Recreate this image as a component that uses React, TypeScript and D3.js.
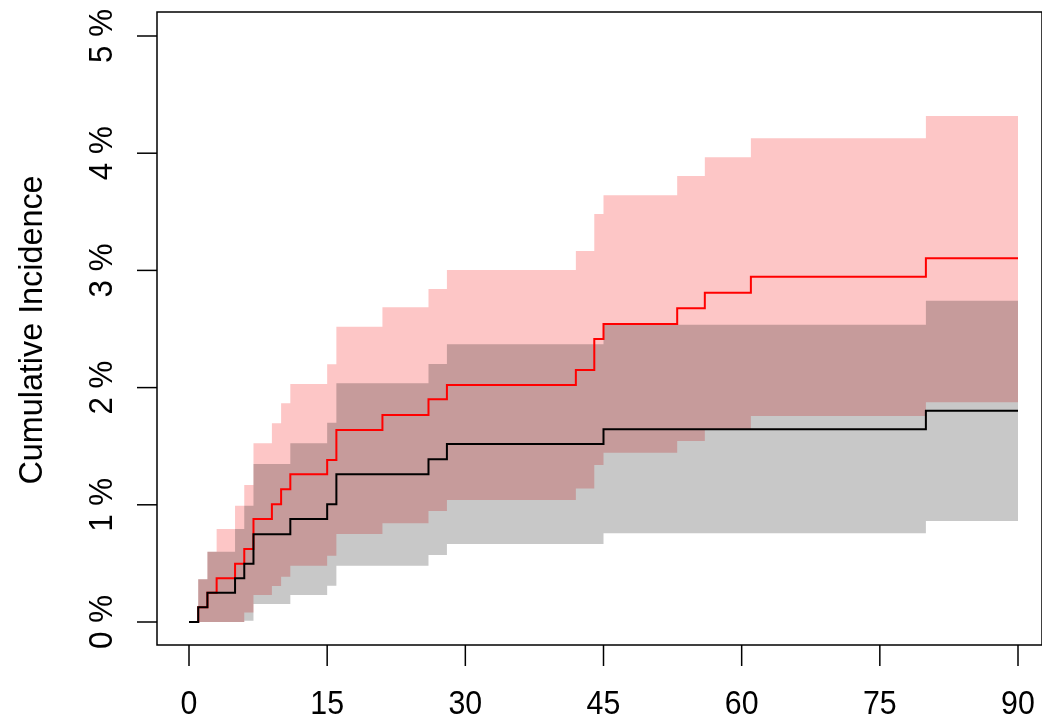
import React, {useEffect, useRef} from 'react';
import * as d3 from 'd3';

// group 1 (black) : event times, estimate and CI bounds (in %)
const blackTimes = [0, 1, 2, 5, 6, 7, 11, 15, 16, 26, 28, 45, 80];
const blackEst = [0, 0.125, 0.25, 0.373, 0.497, 0.748, 0.879, 1.004, 1.26, 1.388, 1.519, 1.644, 1.803];
const blackLower = [0, 0, 0, 0, 0.01, 0.153, 0.23, 0.31, 0.48, 0.571, 0.666, 0.757, 0.862];
const blackUpper = [0, 0.364, 0.6, 0.794, 0.992, 1.348, 1.525, 1.7, 2.037, 2.201, 2.369, 2.537, 2.742];

// group 2 (red)
const redTimes = [0, 1, 2, 3, 5, 6, 7, 9, 10, 11, 15, 16, 21, 26, 28, 42, 44, 45, 53, 56, 61, 80];
const redEst = [0, 0.125, 0.25, 0.373, 0.497, 0.623, 0.879, 1.004, 1.132, 1.26, 1.382, 1.638, 1.766, 1.9, 2.022, 2.15, 2.415, 2.543, 2.676, 2.81, 2.946, 3.103];
const redLower = [0, 0, 0, 0, 0, 0.08, 0.23, 0.307, 0.387, 0.48, 0.566, 0.751, 0.842, 0.947, 1.041, 1.14, 1.34, 1.445, 1.545, 1.644, 1.758, 1.875];
const redUpper = [0, 0.364, 0.6, 0.794, 0.992, 1.169, 1.525, 1.695, 1.866, 2.031, 2.199, 2.52, 2.685, 2.841, 3.003, 3.166, 3.481, 3.641, 3.805, 3.965, 4.127, 4.317];

const xTicks = [0, 15, 30, 45, 60, 75, 90];
const yTicks = [0, 1, 2, 3, 4, 5];
const yTickLabels = ['0 %', '1 %', '2 %', '3 %', '4 %', '5 %'];
const yLabel = 'Cumulative Incidence';
const maxTime = 90;

type Pt = { t: number, est: number, lo: number, hi: number };

function toPoints(times: number[], est: number[], lo: number[], hi: number[]): Pt[] {
  const pts = times.map((t, i) => ({t, est: est[i], lo: lo[i], hi: hi[i]}));
  const last = pts[pts.length - 1];
  pts.push({...last, t: maxTime});
  return pts;
}

const W = 1042, H = 718;
const box = {left: 157, right: 1042, top: 12, bottom: 645};
const font = '"Liberation Sans", Arial, sans-serif';

const App: React.FC = () => {
  const ref = useRef<SVGSVGElement>(null);

  useEffect(() => {
    const svg = d3.select(ref.current!);
    svg.selectAll('*').remove();

    const x = d3.scaleLinear().domain([0, 90]).range([189, 1018]);
    const y = d3.scaleLinear().domain([0, 5]).range([622, 36]);

    const black = toPoints(blackTimes, blackEst, blackLower, blackUpper);
    const red = toPoints(redTimes, redEst, redLower, redUpper);

    const band = d3.area<Pt>()
    .curve(d3.curveStepAfter)
    .x(d => x(d.t))
    .y0(d => y(d.lo))
    .y1(d => y(d.hi));

    const line = d3.line<Pt>()
    .curve(d3.curveStepAfter)
    .x(d => x(d.t))
    .y(d => y(d.est));

    // confidence bands: grey first, pink multiplied on top gives the brownish overlap
    svg.append('path').attr('d', band(black)).attr('fill', '#C8C8C8');
    svg.append('path').attr('d', band(red)).attr('fill', '#FDC6C6')
    .style('mix-blend-mode', 'multiply');

    svg.append('path').attr('d', line(red)).attr('fill', 'none')
    .attr('stroke', '#FF0000').attr('stroke-width', 2);
    svg.append('path').attr('d', line(black)).attr('fill', 'none')
    .attr('stroke', '#000000').attr('stroke-width', 2);

    // frame
    svg.append('rect')
    .attr('x', box.left).attr('y', box.top)
    .attr('width', box.right - box.left).attr('height', box.bottom - box.top)
    .attr('fill', 'none').attr('stroke', '#000').attr('stroke-width', 1.5);

    // x axis
    const gx = svg.append('g');
    gx.selectAll('line').data(xTicks).join('line')
    .attr('x1', d => x(d)).attr('x2', d => x(d))
    .attr('y1', box.bottom).attr('y2', box.bottom + 21)
    .attr('stroke', '#000').attr('stroke-width', 1.5);
    gx.selectAll('text').data(xTicks).join('text')
    .attr('transform', d => `translate(${x(d)},714) scale(0.92,1)`)
    .attr('text-anchor', 'middle')
    .attr('font-family', font).attr('font-size', 33)
    .text(d => String(d));

    // y axis
    const gy = svg.append('g');
    gy.selectAll('line').data(yTicks).join('line')
    .attr('x1', box.left - 20).attr('x2', box.left)
    .attr('y1', d => y(d)).attr('y2', d => y(d))
    .attr('stroke', '#000').attr('stroke-width', 1.5);
    gy.selectAll('text').data(yTicks).join('text')
    .attr('transform', d => `translate(112,${y(d)}) rotate(-90) scale(0.95,1)`)
    .attr('text-anchor', 'middle')
    .attr('font-family', font).attr('font-size', 33)
    .text((d, i) => yTickLabels[i]);

    svg.append('text')
    .attr('transform', `translate(42,330) rotate(-90) scale(0.98,1)`)
    .attr('text-anchor', 'middle')
    .attr('font-family', font).attr('font-size', 33)
    .text(yLabel);
  }, []);

  return (
    <svg ref={ref} width={W} height={H}
         style={{position: 'absolute', left: 0, top: 0, background: '#fff'}}/>
  );
};

export default App;
